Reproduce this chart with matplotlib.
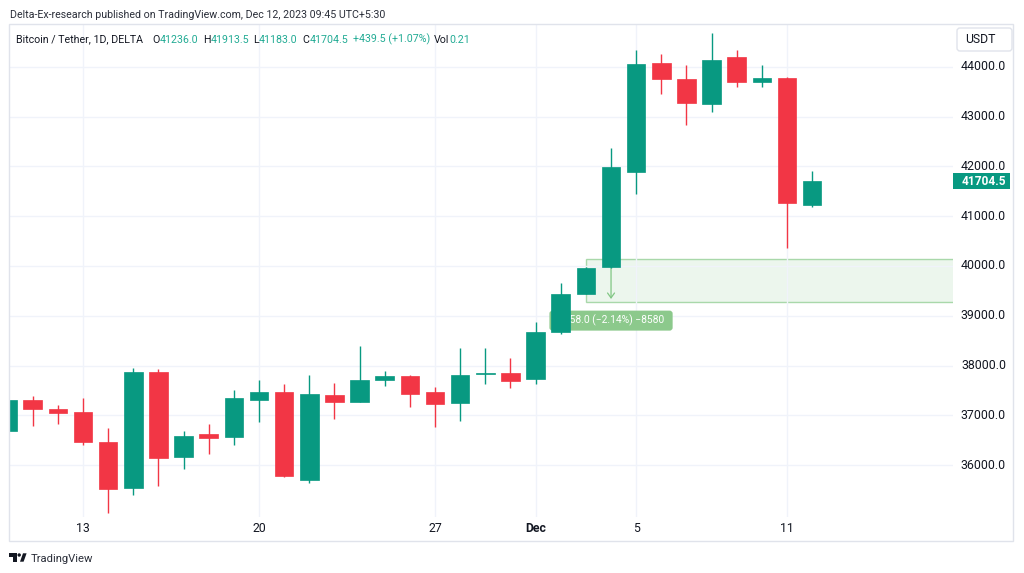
import matplotlib
matplotlib.use('Agg')
import matplotlib.pyplot as plt
import matplotlib.patches as mpatches
from matplotlib.transforms import Affine2D
import numpy as np
import pandas as pd

plt.rcParams['font.family'] = ['Roboto', 'DejaVu Sans']

# daily BTC/USDT candles, Nov 10 - Dec 12 2023
dates = pd.date_range('2023-11-10', '2023-12-12', freq='D')
opens = [36690, 37300, 37125, 37060, 36457, 35538, 37869, 36161, 36617, 36563,
         37313, 37462, 35706, 37414, 37273, 37702, 37789, 37462, 37246, 37822,
         37857, 37729, 38667, 39444, 39973, 41883, 44074, 43759, 43250, 44207,
         43698, 43779, 41236.0]
highs = [37320, 37390, 37210, 37355, 36745, 37943, 37930, 36690, 36824, 37502,
         37703, 37636, 37804, 37642, 38392, 37883, 37816, 37568, 38358, 38346,
         38145, 38881, 39665, 39980, 42365, 44342, 44268, 44040, 44677, 44342,
         44040, 43793, 41913.5]
lows = [36650, 36790, 36830, 36410, 35035, 35390, 35578, 35920, 36215, 36408,
        36870, 35760, 35645, 36931, 37260, 37594, 37172, 36770, 36890, 37622,
        37542, 37622, 38633, 39430, 39960, 41447, 43457, 42834, 43102, 43604,
        43604, 40356, 41183.0]
closes = [37300, 37130, 37050, 36460, 35518, 37869, 36134, 36583, 36549, 37355,
          37462, 35774, 37427, 37273, 37709, 37789, 37434, 37233, 37816, 37857,
          37695, 38680, 39437, 39966, 41996, 44054, 43753, 43270, 44147, 43698,
          43779, 41260, 41704.5]

price_ticks = [36000, 37000, 38000, 39000, 40000, 41000, 42000, 43000, 44000]
date_ticks = ['2023-11-13', '2023-11-20', '2023-11-27', '2023-12-01', '2023-12-05', '2023-12-11']

# price range measurement drawn on the chart
meas_start, meas_arrow = '2023-12-03', '2023-12-04'
meas_top, meas_bottom = 40140, 39282
meas_label = '\u2212858.0 (\u22122.14%) \u22128580'

last_price = 41704.5
header = 'Delta-Ex-research published on TradingView.com, Dec 12, 2023 09:45 UTC+5:30'
legend_parts = [('O', '41236.0'), ('H', '41913.5'), ('L', '41183.0'), ('C', '41704.5'),
                ('', '+439.5 (+1.07%)'), ('Vol', '0.21')]

UP, DOWN = '#089981', '#f23645'
TXT = '#131722'
W, H = 1024, 573

fig = plt.figure(figsize=(W / 100, H / 100), dpi=100)
px = Affine2D().scale(1 / W, -1 / H).translate(0, 1) + fig.transFigure
ax = fig.add_axes([9 / W, 1 - 517 / H, 944 / W, 493 / H])

x = np.arange(len(dates))
o = np.array(opens); c = np.array(closes)
hi = np.array(highs); lo = np.array(lows)
up = c >= o
cols = np.where(up, UP, DOWN)

ax.vlines(x, lo, hi, colors=cols, lw=1, zorder=3)
ax.bar(x, np.maximum(np.abs(c - o), 25), bottom=np.minimum(o, c), width=0.74,
       color=cols, edgecolor=cols, lw=0.5, zorder=4)

ax.set_xlim(0.057, 37.6)
ax.set_ylim(34955, 44864)
tick_idx = [dates.get_loc(pd.Timestamp(d)) for d in date_ticks]
ax.set_xticks(tick_idx)
ax.set_yticks(price_ticks)
ax.grid(color='#f0f3fa', lw=1, zorder=0)
ax.tick_params(length=0, labelleft=False, labelbottom=False)
for s in ax.spines.values():
    s.set_visible(False)

# measurement box, arrow and label
i0 = dates.get_loc(pd.Timestamp(meas_start))
ia = dates.get_loc(pd.Timestamp(meas_arrow))
ax.add_patch(mpatches.Rectangle((i0, meas_bottom), 40, meas_top - meas_bottom,
                                fc=(0.30, 0.69, 0.31, 0.10), ec=(0.30, 0.69, 0.31, 0.45),
                                lw=1, zorder=1))
ax.annotate('', xy=(ia, meas_bottom), xytext=(ia, meas_top),
            arrowprops=dict(arrowstyle='->,head_length=0.35,head_width=0.25',
                            color='#81c784', lw=0.9), zorder=2)
lab_y = meas_bottom - 380
ax.add_patch(mpatches.FancyBboxPatch((ia - 2.45, lab_y - 201), 4.9, 402,
                                     boxstyle='round,pad=0,rounding_size=0.12',
                                     mutation_aspect=505, fc='#8cc98c', ec='none', zorder=2))
ax.text(ia, lab_y, meas_label, ha='center', va='center', color='white',
        fontsize=7.4, zorder=2)

# price axis labels
ytr = ax.get_yaxis_transform()
for p in price_ticks:
    ax.text((1006 - 9) / 944, p, f'{p:.1f}', transform=ytr, ha='right', va='center',
            fontsize=8.9, color=TXT, clip_on=False)
ax.add_patch(mpatches.Rectangle((1.0, last_price - 166), (1010 - 953) / 944, 332,
                                transform=ytr, fc=UP, ec='none', clip_on=False, zorder=5))
ax.text((1006 - 9) / 944, last_price, f'{last_price:.1f}', transform=ytr, ha='right',
        va='center', fontsize=8.6, color='white', fontweight='bold', clip_on=False, zorder=6)

# time axis labels
xtr = ax.get_xaxis_transform()
for i, d in zip(tick_idx, date_ticks):
    d = pd.Timestamp(d)
    lab = d.strftime('%b') if d.day == 1 else str(d.day)
    ax.text(i, (517 - 528) / 493, lab, transform=xtr, ha='center', va='center',
            fontsize=8.8, color=TXT, fontweight='bold' if d.day == 1 else 'normal',
            clip_on=False)

# frame and axis boxes
fig.add_artist(mpatches.Rectangle((9, 24), 1004, 517, transform=px, fill=False,
                                  ec='#e0e3eb', lw=1))
fig.add_artist(mpatches.FancyBboxPatch((957, 28), 55, 23, transform=px,
                                       boxstyle='round,pad=0,rounding_size=3',
                                       fc='white', ec='#e0e3eb', lw=1))
fig.text(965, 39.5, 'USDT', transform=px, ha='left', va='center', fontsize=8.8, color=TXT)

# header texts
fig.text(10, 18.5, header, transform=px, fontsize=7.7, color='#2a2e39', va='baseline')
fig.canvas.draw()
r = fig.canvas.get_renderer()
fig.text(16.5, 42.7, 'Bitcoin / Tether, 1D, DELTA', transform=px, fontsize=7.7,
         color=TXT, va='baseline')
starts = [152, 202.7, 253, 302.7, 353.3, 434]
for sx, (k, v) in zip(starts, legend_parts):
    xx = sx
    if k:
        t = fig.text(xx, 42.7, k, transform=px, fontsize=7.7, color=TXT, va='baseline')
        xx = t.get_window_extent(r).x1
    fig.text(xx, 42.7, v, transform=px, fontsize=7.7, color='#22ab94', va='baseline')

# TradingView logo
fig.add_artist(mpatches.Polygon([(9.3, 553.3), (16.8, 553.3), (16.8, 561.7), (13.2, 561.7),
                                 (13.2, 556.8), (9.3, 556.8)], transform=px, fc=TXT, ec='none'))
fig.add_artist(mpatches.Circle((19.2, 555.0), 1.7, transform=px, fc=TXT, ec='none'))
fig.add_artist(mpatches.Polygon([(20.0, 561.7), (23.6, 561.7), (26.6, 553.3), (23.0, 553.3)],
                                transform=px, fc=TXT, ec='none'))
fig.text(30.5, 561.5, 'TradingView', transform=px, fontsize=8.1, color='#2a2e39', va='baseline')

fig.savefig('out.png', dpi=100)
